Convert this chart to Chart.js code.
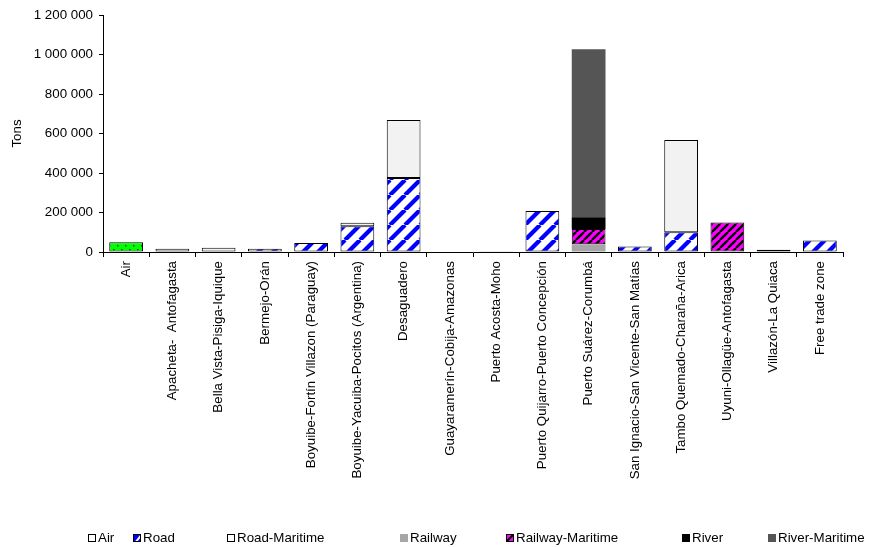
<!DOCTYPE html>
<html>
<head>
<meta charset="utf-8">
<script src="https://cdn.jsdelivr.net/npm/chart.js@4/dist/chart.umd.min.js"></script>
<style>
  html, body { margin: 0; padding: 0; background: #fff; }
  #wrap { width: 887px; height: 547px; }
</style>
</head>
<body>
<div id="wrap"><canvas id="c" width="887" height="547"></canvas></div>
<script>
// Border crossings and freight volume (tons) by mode of transport
const categories = [
  'Air',
  'Apacheta-  Antofagasta',
  'Bella Vista-Pisiga-Iquique',
  'Bermejo-Orán',
  'Boyuibe-Fortín Villazon (Paraguay)',
  'Boyuibe-Yacuiba-Pocitos (Argentina)',
  'Desaguadero',
  'Guayaramerín-Cobija-Amazonas',
  'Puerto Acosta-Moho',
  'Puerto Quijarro-Puerto Concepción',
  'Puerto Suárez-Corumbá',
  'San Ignacio-San Vicente-San Matías',
  'Tambo Quemado-Charaña-Arica',
  'Uyuni-Ollagüe-Antofagasta',
  'Villazón-La Quiaca',
  'Free trade zone'
];

const seriesNames = ['Air', 'Road', 'Road-Maritime', 'Railway', 'Railway-Maritime', 'River', 'River-Maritime'];

const air            = [50000, null, null, null, null, null, null, null, null, null, null, null, null, null, null, null];
const road           = [null, null, null, 16000, 45000, 130000, 375000, null, 4000, 207000, 3000, 28000, 100000, null, 12000, 58000];
const roadMaritime   = [null, 16000, 22000, null, null, 18000, 293000, null, null, null, null, null, 467000, null, null, null];
const railway        = [null, null, null, null, null, null, null, null, null, null, 36000, null, null, null, null, null];
const railwayMaritime= [null, null, null, null, null, null, null, null, null, null, 77000, null, null, 150000, null, null];
const river          = [null, null, null, null, null, null, null, null, null, null, 60000, null, null, null, null, null];
const riverMaritime  = [null, null, null, null, null, null, null, null, null, null, 851000, null, null, null, null, null];

const yMax = 1200000;
const yStep = 200000;

// ---- fill patterns ----
function makePattern(size, bg, paint) {
  const c = document.createElement('canvas');
  c.width = size; c.height = size;
  const g = c.getContext('2d');
  g.fillStyle = bg;
  g.fillRect(0, 0, size, size);
  paint(g, size);
  return g.createPattern(c, 'repeat');
}
function diagonal(g, s, color, w) {
  g.strokeStyle = color;
  g.lineWidth = w;
  for (let k = -1; k <= 1; k++) {
    g.beginPath();
    g.moveTo(k * s, s);
    g.lineTo(k * s + s, 0);
    g.stroke();
  }
}
const airFill = makePattern(8, '#00ff00', (g) => {
  g.fillStyle = '#0b4d0b';
  g.fillRect(1, 1, 1.5, 1.5);
  g.fillRect(5, 5, 1.5, 1.5);
});
const roadFill = makePattern(15, '#ffffff', (g, s) => diagonal(g, s, '#0000ff', 4.2));
const railMarFill = makePattern(8, '#ff00ff', (g, s) => diagonal(g, s, '#000000', 2.4));

// ---- legend drawn below the axis labels ----
const legendSpec = {
  y: 538,
  box: 8,
  xs: [88, 133, 227, 400, 506, 682, 768]
};
function legendSwatch(ctx, i, x, y, b) {
  ctx.save();
  ctx.lineWidth = 1;
  ctx.strokeStyle = '#000';
  if (i === 0 || i === 2) {
    ctx.fillStyle = '#fff';
    ctx.fillRect(x, y, b, b);
    ctx.strokeRect(x + 0.5, y + 0.5, b - 1, b - 1);
  } else if (i === 1) {
    ctx.fillStyle = '#0000ff';
    ctx.fillRect(x, y, b, b);
    ctx.beginPath(); ctx.rect(x, y, b, b); ctx.clip();
    ctx.strokeStyle = '#fff'; ctx.lineWidth = 2;
    ctx.beginPath(); ctx.moveTo(x + 2, y + b + 1); ctx.lineTo(x + b + 2, y - 1); ctx.stroke();
    ctx.strokeStyle = '#000'; ctx.lineWidth = 1;
    ctx.strokeRect(x + 0.5, y + 0.5, b - 1, b - 1);
  } else if (i === 3) {
    ctx.fillStyle = '#a6a6a6';
    ctx.fillRect(x, y, b, b);
  } else if (i === 4) {
    ctx.fillStyle = '#ff00ff';
    ctx.fillRect(x, y, b, b);
    ctx.beginPath(); ctx.rect(x, y, b, b); ctx.clip();
    ctx.strokeStyle = '#000'; ctx.lineWidth = 2;
    ctx.beginPath(); ctx.moveTo(x - 1, y + b + 1); ctx.lineTo(x + b + 1, y - 1); ctx.stroke();
    ctx.lineWidth = 1;
    ctx.strokeRect(x + 0.5, y + 0.5, b - 1, b - 1);
  } else if (i === 5) {
    ctx.fillStyle = '#000';
    ctx.fillRect(x, y, b, b);
  } else {
    ctx.fillStyle = '#555555';
    ctx.fillRect(x, y, b, b);
  }
  ctx.restore();
}
const bottomLegend = {
  id: 'bottomLegend',
  afterDraw(chart) {
    const ctx = chart.ctx;
    const b = legendSpec.box;
    ctx.save();
    ctx.font = '13.33px "Liberation Sans", Arial, sans-serif';
    ctx.fillStyle = '#000';
    ctx.textBaseline = 'middle';
    ctx.textAlign = 'left';
    chart.data.datasets.forEach((ds, i) => {
      const x = legendSpec.xs[i];
      legendSwatch(ctx, i, x, legendSpec.y - b / 2, b);
      ctx.fillStyle = '#000';
      ctx.fillText(ds.label, x + b + 2, legendSpec.y);
    });
    ctx.restore();
  }
};

Chart.defaults.font.family = '"Liberation Sans", Arial, sans-serif';
Chart.defaults.font.size = 13.33;
Chart.defaults.color = '#000';

function fmt(v) {
  return String(v).replace(/\B(?=(\d{3})+(?!\d))/g, ' ');
}

const outlined = { borderColor: '#000', borderWidth: 1, borderSkipped: false };
const plain = { borderWidth: 0 };

const datasets = [
  Object.assign({ label: seriesNames[0], data: air, backgroundColor: airFill }, outlined),
  Object.assign({ label: seriesNames[1], data: road, backgroundColor: roadFill }, outlined),
  Object.assign({ label: seriesNames[2], data: roadMaritime, backgroundColor: '#f2f2f2' }, outlined),
  Object.assign({ label: seriesNames[3], data: railway, backgroundColor: '#a6a6a6' }, plain),
  Object.assign({ label: seriesNames[4], data: railwayMaritime, backgroundColor: railMarFill }, outlined),
  Object.assign({ label: seriesNames[5], data: river, backgroundColor: '#000000' }, plain),
  Object.assign({ label: seriesNames[6], data: riverMaritime, backgroundColor: '#555555' }, plain)
];

new Chart(document.getElementById('c'), {
  type: 'bar',
  data: { labels: categories, datasets },
  options: {
    responsive: false,
    animation: false,
    events: [],
    layout: { padding: { top: 15, right: 44, bottom: 0, left: 0 } },
    datasets: { bar: { barPercentage: 0.73, categoryPercentage: 1 } },
    plugins: {
      legend: { display: false },
      tooltip: { enabled: false },
      title: { display: false }
    },
    scales: {
      x: {
        stacked: true,
        offset: true,
        afterFit(scale) { scale.height = 295; },
        grid: {
          offset: true,
          drawOnChartArea: false,
          drawTicks: true,
          tickLength: 5,
          color: '#000',
          lineWidth: 1
        },
        border: { display: true, color: '#000', width: 1 },
        ticks: {
          autoSkip: false,
          minRotation: 90,
          maxRotation: 90,
          padding: 4,
          color: '#000',
          font: { size: 13.33 }
        }
      },
      y: {
        stacked: true,
        min: 0,
        max: yMax,
        afterFit(scale) { scale.width = 103; },
        grid: {
          drawOnChartArea: false,
          drawTicks: true,
          tickLength: 4,
          color: '#000',
          lineWidth: 1
        },
        border: { display: true, color: '#000', width: 1 },
        ticks: {
          stepSize: yStep,
          padding: 6,
          color: '#000',
          font: { size: 13.33 },
          callback: (v) => fmt(v)
        },
        title: {
          display: true,
          text: 'Tons',
          color: '#000',
          font: { size: 13.33 },
          padding: { top: 9, bottom: 0 }
        }
      }
    }
  },
  plugins: [bottomLegend]
});
</script>
</body>
</html>
